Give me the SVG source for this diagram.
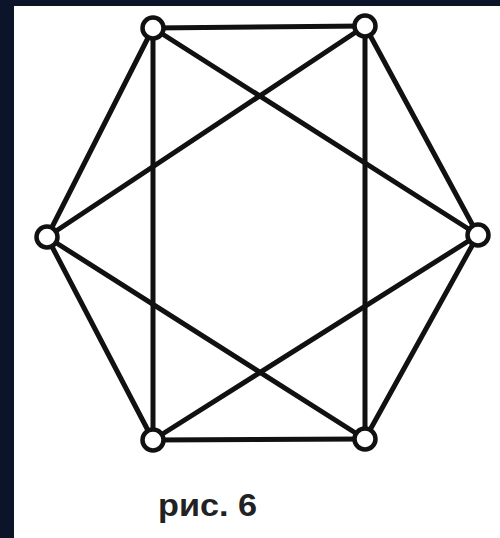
<svg xmlns="http://www.w3.org/2000/svg" width="500" height="538" viewBox="0 0 500 538">
<style>
.e{stroke:#111;stroke-width:5;stroke-linecap:round}
.n{fill:#fff;stroke:#111;stroke-width:4.5}
.t{font-family:"Liberation Sans",Arial,sans-serif;font-size:32px;font-weight:bold;fill:#222}
</style>
<rect width="500" height="538" fill="#0b1428"/>
<rect x="14" y="6" width="486" height="532" fill="#fff"/>
<g id="edges">
<line class="e" x1="153" y1="28" x2="365" y2="26"/>
<line class="e" x1="365" y1="26" x2="478" y2="235"/>
<line class="e" x1="478" y1="235" x2="365" y2="439"/>
<line class="e" x1="365" y1="439" x2="153" y2="440"/>
<line class="e" x1="153" y1="440" x2="47" y2="237"/>
<line class="e" x1="47" y1="237" x2="153" y2="28"/>
<line class="e" x1="153" y1="28" x2="153" y2="440"/>
<line class="e" x1="365" y1="26" x2="365" y2="439"/>
<line class="e" x1="153" y1="28" x2="478" y2="235"/>
<line class="e" x1="365" y1="26" x2="47" y2="237"/>
<line class="e" x1="47" y1="237" x2="365" y2="439"/>
<line class="e" x1="478" y1="235" x2="153" y2="440"/>
</g>
<g id="n1"><circle class="n" cx="153" cy="28" r="10.5"/></g>
<g id="n2"><circle class="n" cx="365" cy="26" r="10.5"/></g>
<g id="n3"><circle class="n" cx="478" cy="235" r="10.5"/></g>
<g id="n4"><circle class="n" cx="365" cy="439" r="10.5"/></g>
<g id="n5"><circle class="n" cx="153" cy="440" r="10.5"/></g>
<g id="n6"><circle class="n" cx="47" cy="237" r="10.5"/></g>
<text class="t" x="158" y="516" textLength="99" lengthAdjust="spacingAndGlyphs">рис. 6</text>
</svg>
